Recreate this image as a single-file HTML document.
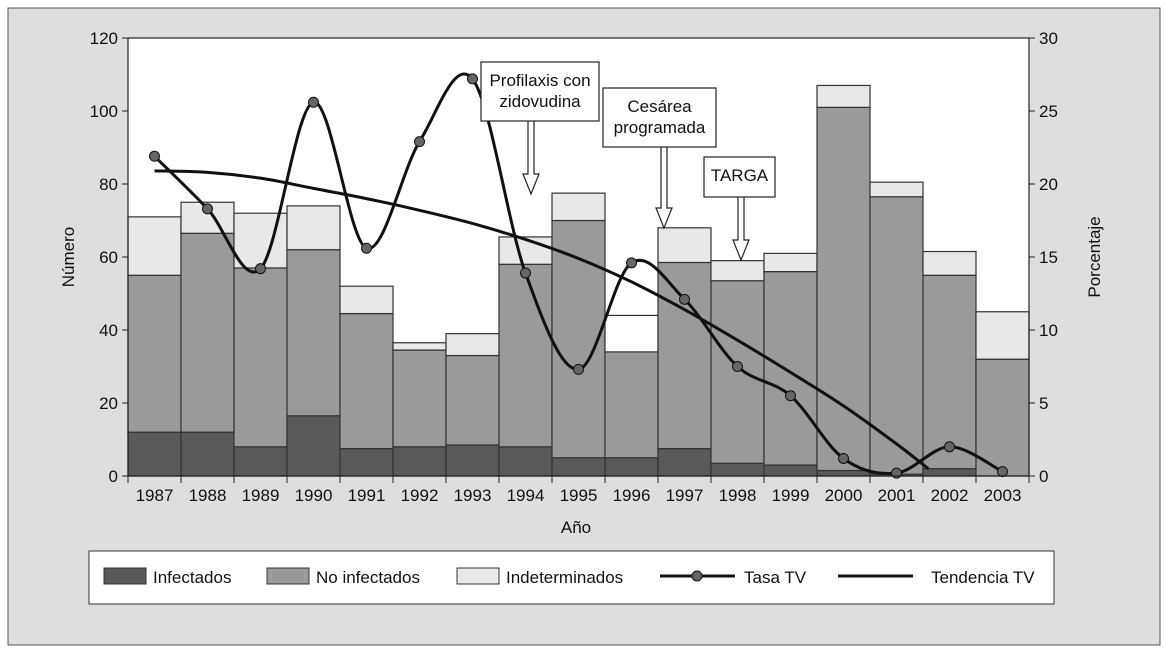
<!DOCTYPE html>
<html><head><meta charset="utf-8"><style>
body{margin:0;background:#fff;}
svg text{font-family:"Liberation Sans",sans-serif;fill:#111;}
</style></head><body>
<svg id="c" width="1167" height="650" viewBox="0 0 1167 650">
<rect x="8" y="8" width="1152" height="637" fill="#dedede" stroke="#555"/>
<rect x="128" y="38" width="901" height="438" fill="#fff"/>
<g id="bars"></g><g id="lines"></g><g id="axes"></g><g id="ann"></g>
<g>
<rect x="89" y="551" width="965" height="53" fill="#fff" stroke="#333"/>
<rect x="104" y="568" width="42" height="16" fill="#5a5a5a" stroke="#333"/><text x="153" y="583" font-size="17">Infectados</text>
<rect x="267" y="568" width="42" height="16" fill="#9a9a9a" stroke="#333"/><text x="316" y="583" font-size="17">No infectados</text>
<rect x="457" y="568" width="42" height="16" fill="#e8e8e8" stroke="#333"/><text x="506" y="583" font-size="17">Indeterminados</text>
<line x1="660" y1="576" x2="735" y2="576" stroke="#111" stroke-width="3"/><circle cx="697" cy="576" r="5" fill="#666" stroke="#111"/><text x="744" y="583" font-size="17">Tasa TV</text>
<line x1="838" y1="576" x2="913" y2="576" stroke="#111" stroke-width="3"/><text x="931" y="583" font-size="17">Tendencia TV</text>
</g>
</svg>
<script>
const years=[1987,1988,1989,1990,1991,1992,1993,1994,1995,1996,1997,1998,1999,2000,2001,2002,2003];
const infected=[12,12,8,16.5,7.5,8,8.5,8,5,5,7.5,3.5,3,1.5,0.5,2,0];
const noInfected=[43,54.5,49,45.5,37,26.5,24.5,50,65,29,51,50,53,99.5,76,53,32];
const indeterminate=[16,8.5,15,12,7.5,2,6,7.5,7.5,10,9.5,5.5,5,6,4,6.5,13];
const tasaTV=[21.9,18.3,14.2,25.6,15.6,22.9,27.2,13.9,7.3,14.6,12.1,7.5,5.5,1.2,0.2,2.0,0.3];
const trendYears=[1987,1988,1989,1990,1991,1992,1993,1994,1995,1996,1997,1998,1999,2000,2001,2001.6];
const trendTV=[20.9,20.8,20.4,19.7,19.0,18.2,17.3,16.2,14.9,13.3,11.4,9.3,7.1,4.8,2.2,0.5];
const leftTicks=[0,20,40,60,80,100,120];
const rightTicks=[0,5,10,15,20,25,30];
const NS='http://www.w3.org/2000/svg';
const X0=128,X1=1029,Y0=476,Y1=38,bw=(X1-X0)/years.length;
const xc=y=>X0+(y-years[0]+0.5)*bw;
const yl=v=>Y0-v/120*(Y0-Y1);
const yr=v=>Y0-v/30*(Y0-Y1);
function mk(t,p,a){const e=document.createElementNS(NS,t);for(const k in a)e.setAttribute(k,a[k]);p.appendChild(e);return e;}
const B=document.getElementById('bars');
years.forEach((yr_,i)=>{
 const x=X0+i*bw;let base=0;
 [[infected,'#5a5a5a','infected'],[noInfected,'#9a9a9a','no-infected'],[indeterminate,i==9?'#fff':'#e8e8e8','indeterminate']].forEach(([arr,c,n])=>{
  const v=arr[i];const r=mk('rect',B,{x:x,y:yl(base+v),width:bw,height:yl(base)-yl(base+v),fill:c,stroke:'#333','stroke-width':1.2});
  
  
  base+=v;});
});
const L=document.getElementById('lines');
function spline(pts){let d='M'+pts[0][0]+','+pts[0][1];for(let i=0;i<pts.length-1;i++){const p0=pts[i-1]||pts[i],p1=pts[i],p2=pts[i+1],p3=pts[i+2]||p2;
 d+=` C${p1[0]+(p2[0]-p0[0])/6},${p1[1]+(p2[1]-p0[1])/6} ${p2[0]-(p3[0]-p1[0])/6},${p2[1]-(p3[1]-p1[1])/6} ${p2[0]},${p2[1]}`;}return d;}
const tp=trendYears.map((y,i)=>[xc(y),yr(trendTV[i])]);
const tl=mk('path',L,{d:spline(tp),fill:'none',stroke:'#111','stroke-width':3});


const pp=years.map((y,i)=>[xc(y),yr(tasaTV[i])]);
const pl=mk('path',L,{d:spline(pp),fill:'none',stroke:'#111','stroke-width':3});


pp.forEach((p,i)=>{const c=mk('circle',L,{cx:p[0],cy:p[1],r:5,fill:'#666',stroke:'#111','stroke-width':1});
 
 });
const A=document.getElementById('axes');
mk('rect',A,{x:X0,y:Y1,width:X1-X0,height:Y0-Y1,fill:'none',stroke:'#222','stroke-width':1.2});
leftTicks.forEach(v=>{mk('line',A,{x1:X0-6,x2:X0,y1:yl(v),y2:yl(v),stroke:'#222'});
 const t=mk('text',A,{x:X0-10,y:yl(v)+6,'font-size':17,'text-anchor':'end'});t.textContent=v;
 
 });
rightTicks.forEach(v=>{mk('line',A,{x1:X1,x2:X1+6,y1:yr(v),y2:yr(v),stroke:'#222'});
 const t=mk('text',A,{x:X1+10,y:yr(v)+6,'font-size':17});t.textContent=v;
 
 });
years.forEach((y,i)=>{mk('line',A,{x1:X0+i*bw,x2:X0+i*bw,y1:Y0,y2:Y0+7,stroke:'#222'});
 const t=mk('text',A,{x:xc(y),y:Y0+25,'font-size':17,'text-anchor':'middle'});t.textContent=y;
 
 });
mk('line',A,{x1:X1,x2:X1,y1:Y0,y2:Y0+7,stroke:'#222'});
let t=mk('text',A,{x:576,y:533,'font-size':17,'text-anchor':'middle'});t.textContent='Año';

t=mk('text',A,{x:74,y:257,'font-size':17,'text-anchor':'middle',transform:'rotate(-90 74 257)'});t.textContent='Número';

t=mk('text',A,{x:1100,y:257,'font-size':17,'text-anchor':'middle',transform:'rotate(-90 1100 257)'});t.textContent='Porcentaje';

const N=document.getElementById('ann');
function ann(name,bx,by,bwid,bh,lines,ax,ay){
 const g=mk('g',N,{});
 
 
 mk('path',g,{d:`M${ax-3},${by+bh} L${ax-3},${ay-20} L${ax-8},${ay-20} L${ax},${ay} L${ax+8},${ay-20} L${ax+3},${ay-20} L${ax+3},${by+bh}`,fill:'#fff',stroke:'#222','stroke-width':1.2});
 mk('rect',g,{x:bx,y:by,width:bwid,height:bh,fill:'#fff',stroke:'#222','stroke-width':1.2});
 lines.forEach((s,i)=>{const tt=mk('text',g,{x:bx+bwid/2,y:by+24+i*21,'font-size':17,'text-anchor':'middle'});tt.textContent=s;});
}
ann('annotation-profilaxis',481,62,118,59,['Profilaxis con','zidovudina'],531,194);
ann('annotation-cesarea',603,88,113,59,['Cesárea','programada'],664,228);
ann('annotation-targa',704,157,71,40,['TARGA'],741,260);
</script>
</body></html>
